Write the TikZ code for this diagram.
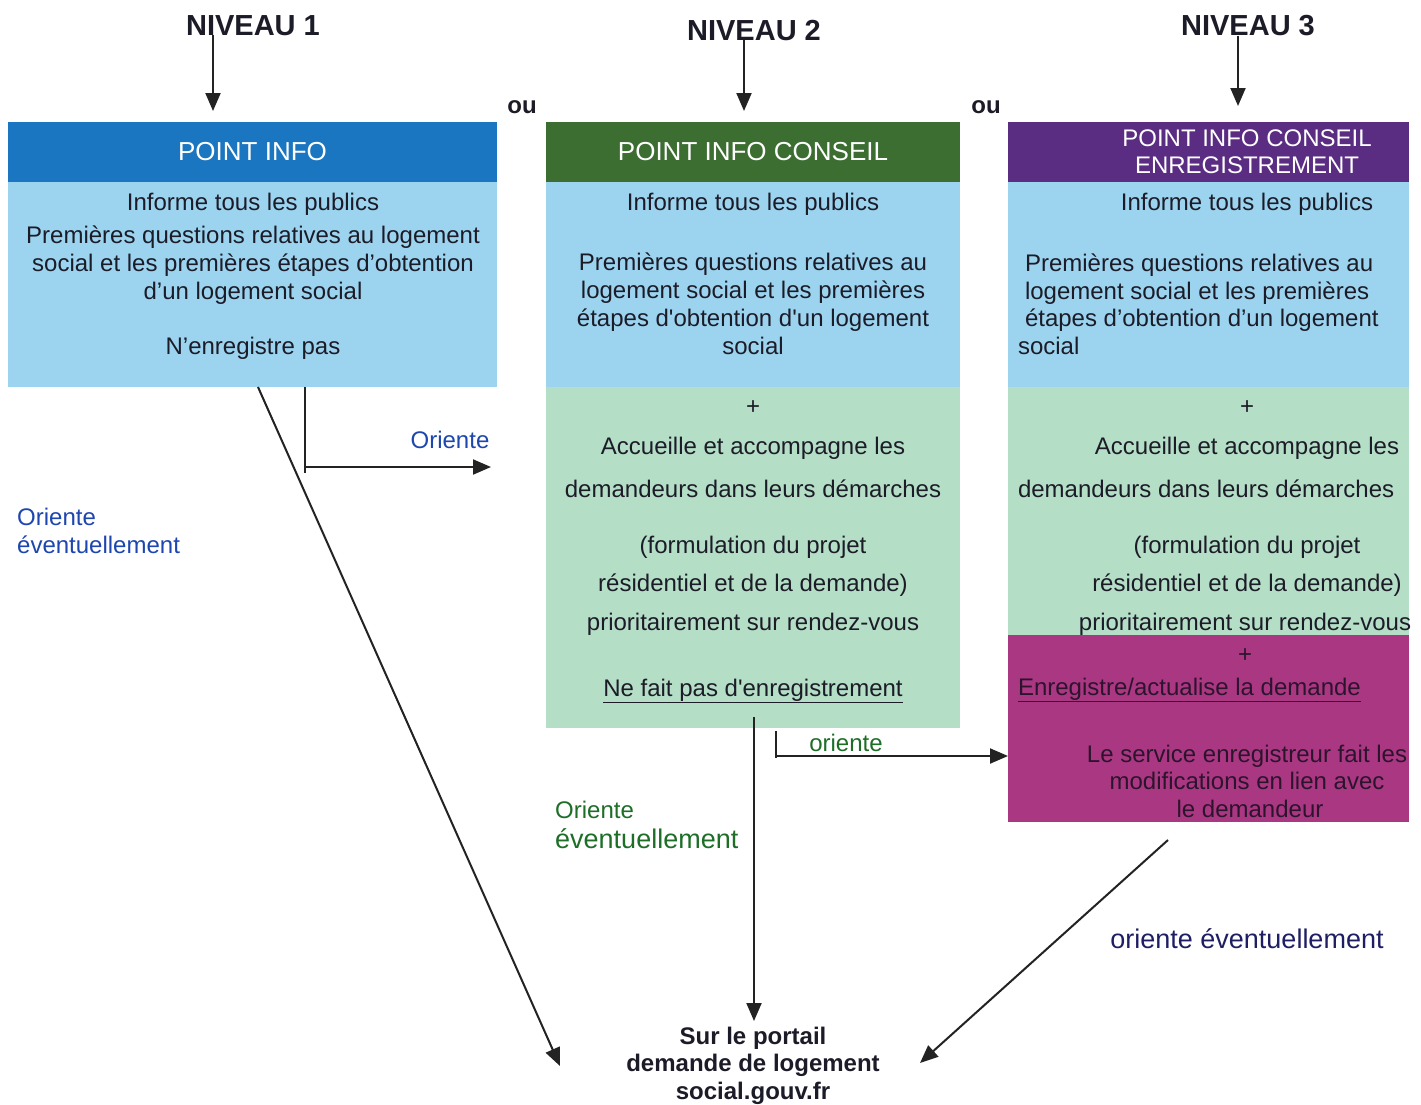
\documentclass[tikz,border=0pt]{standalone}
\usepackage{fontspec}
\setmainfont{Liberation Sans}
\usetikzlibrary{arrows.meta}
\definecolor{hdrA}{RGB}{26,118,192}
\definecolor{hdrB}{RGB}{60,110,50}
\definecolor{hdrC}{RGB}{90,45,130}
\definecolor{lblue}{RGB}{156,212,240}
\definecolor{lgreen}{RGB}{181,222,198}
\definecolor{magbox}{RGB}{170,55,130}
\definecolor{txtdark}{RGB}{28,28,40}
\definecolor{magtxt}{RGB}{45,20,45}
\definecolor{lblblue}{RGB}{30,70,175}
\definecolor{lblgreen}{RGB}{30,110,40}
\definecolor{lblnavy}{RGB}{30,30,100}
\definecolor{linec}{RGB}{35,35,35}
\begin{document}
\begin{tikzpicture}[x=1pt,y=-1pt,
  region/.style={inner sep=0pt,outer sep=0pt,draw=none},
  hdrtext/.style={text=white,font=\fontsize{26}{27}\selectfont},
  body/.style={inner sep=0pt,outer sep=0pt,text=txtdark,font=\fontsize{24}{28}\selectfont,anchor=base},
  bodyl/.style={body,anchor=base west},
  lvl/.style={inner sep=0pt,anchor=base,text=txtdark,font=\bfseries\fontsize{29}{30}\selectfont},
  lbl/.style={inner sep=0pt,anchor=base,font=\fontsize{24}{28}\selectfont},
  line/.style={draw=linec,line width=2pt},
  arr/.style={line,-{Triangle[length=18pt,width=15pt]}},
]
\useasboundingbox (0,0) rectangle (1421,1104);
\fill[white] (0,0) rectangle (1421,1104);

% ---------- Box 1 ----------
\node[region,fill=hdrA,minimum width=489pt,minimum height=60pt] (h1) at (252.5,152) {};
\node[hdrtext] (h1t) at (h1) {POINT INFO};
\node[region,fill=lblue,minimum width=489pt,minimum height=205pt] (b1) at (252.5,284.5) {};
\node[body] (t11) at (253,210) {Informe tous les publics};
\node[body,align=center] (t12) at (253,299) {Premières questions relatives au logement\\social et les premières étapes d’obtention\\d’un logement social};
\node[body] (t13) at (253,354) {N’enregistre pas};

% ---------- Box 2 ----------
\node[region,fill=hdrB,minimum width=414pt,minimum height=60pt] (h2) at (753,152) {};
\node[hdrtext] (h2t) at (h2) {POINT INFO CONSEIL};
\node[region,fill=lblue,minimum width=414pt,minimum height=205pt] (b2) at (753,284.5) {};
\node[region,fill=lgreen,minimum width=414pt,minimum height=341pt] (g2) at (753,557.5) {};
\node[body] (t21) at (753,210) {Informe tous les publics};
\node[body,align=center,font=\fontsize{24}{27.7}\selectfont] (t22) at (753,354) {Premières questions relatives au\\logement social et les premières\\étapes d\textquotesingle obtention d\textquotesingle un logement\\social};
\node[body] (t23) at (753,414) {+};
\node[body] (t24) at (753,454) {Accueille et accompagne les};
\node[body] (t25) at (753,497) {demandeurs dans leurs démarches};
\node[body] (t26) at (753,553) {(formulation du projet};
\node[body] (t27) at (753,591) {résidentiel et de la demande)};
\node[body] (t28) at (753,630) {prioritairement sur rendez-vous};
\node[body] (t29) at (753,696) {\underline{Ne fait pas d\textquotesingle enregistrement}};

% ---------- Box 3 ----------
\node[region,fill=hdrC,minimum width=401pt,minimum height=60pt] (h3) at (1208.5,152) {};
\node[hdrtext,anchor=base,font=\fontsize{24}{27}\selectfont] (h3t) at (1247,146.5) {POINT INFO CONSEIL};
\node[hdrtext,anchor=base,font=\fontsize{24}{27}\selectfont] (h3u) at (1247,173.5) {ENREGISTREMENT};
\node[region,fill=lblue,minimum width=401pt,minimum height=205pt] (b3) at (1208.5,284.5) {};
\node[region,fill=lgreen,minimum width=401pt,minimum height=248pt] (g3) at (1208.5,511) {};
\node[region,fill=magbox,minimum width=401pt,minimum height=187pt] (m3) at (1208.5,728.5) {};
\node[body] (t31) at (1247,210) {Informe tous les publics};
\node[bodyl] (t32) at (1025,271) {Premières questions relatives au};
\node[bodyl] (t33) at (1025,299) {logement social et les premières};
\node[bodyl] (t34) at (1025,326) {étapes d’obtention d’un logement};
\node[bodyl] (t35) at (1018,354) {social};
\node[body] (t36) at (1247,414) {+};
\node[body] (t37) at (1247,454) {Accueille et accompagne les};
\node[bodyl] (t38) at (1018,497) {demandeurs dans leurs démarches};
\node[body] (t39) at (1247,553) {(formulation du projet};
\node[body] (t3a) at (1247,591) {résidentiel et de la demande)};
\node[body] (t3b) at (1245,630) {prioritairement sur rendez-vous};
\node[body,text=magtxt] (t3c) at (1245,662) {+};
\node[bodyl,text=magtxt] (t3d) at (1018,695) {\underline{Enregistre/actualise la demande}};
\node[body,text=magtxt] (t3e) at (1247,762) {Le service enregistreur fait les};
\node[body,text=magtxt] (t3f) at (1247,789) {modifications en lien avec};
\node[body,text=magtxt] (t3g) at (1250,817) {le demandeur};

% ---------- Level titles ----------
\node[lvl] (n1) at (253,35) {NIVEAU 1};
\node[lvl] (n2) at (754,40) {NIVEAU 2};
\node[lvl] (n3) at (1248,35) {NIVEAU 3};
\node[lvl,font=\bfseries\fontsize{24}{28}\selectfont] (ou1) at (522,113) {ou};
\node[lvl,font=\bfseries\fontsize{24}{28}\selectfont] (ou2) at (986,113) {ou};

\coordinate (a1) at (213,111);
\coordinate (a2) at (744,111);
\coordinate (a3) at (1238,106);
\draw[arr] (n1.south -| a1) -- (a1);
\draw[arr] (n2.south -| a2) -- (a2);
\draw[arr] (n3.south -| a3) -- (a3);

% ---------- Portal ----------
\node[body,align=center,font=\bfseries\fontsize{24}{27.5}\selectfont] (portal) at (753,1099) {Sur le portail\\demande de logement\\social.gouv.fr};

% ---------- Connectors ----------
\coordinate (c1s) at (305,387);
\coordinate (c1c) at (305,473);
\coordinate (c1h) at (305,467);
\coordinate (c1e) at (491,467);
\draw[line] (c1s) -- (c1c);
\draw[arr] (c1h) -- (c1e);
\node[lbl,text=lblblue] (lo1) at (450,448) {Oriente};

\coordinate (c2s) at (258,387);
\coordinate (c2e) at (560,1066);
\draw[arr] (c2s) -- (c2e);
\node[lbl,anchor=base west,text=lblblue,align=left] (lo2) at (17,553) {Oriente\\éventuellement};

\coordinate (c3s) at (754,717);
\coordinate (c3e) at (754,1021);
\draw[arr] (c3s) -- (c3e);
\node[lbl,anchor=base west,text=lblgreen] (lo3) at (555,818) {Oriente};
\node[lbl,anchor=base west,text=lblgreen,font=\fontsize{27}{28}\selectfont] (lo3b) at (555,848) {éventuellement};

\coordinate (c4a) at (776,731);
\coordinate (c4b) at (776,758);
\coordinate (c4s) at (776,756);
\draw[line] (c4a) -- (c4b);
\draw[arr] (c4s) -- (m3.west |- c4s);
\node[lbl,text=lblgreen] (lo4) at (846,751) {oriente};

\coordinate (c5s) at (1168,840);
\coordinate (c5e) at (920,1063);
\draw[arr] (c5s) -- (c5e);
\node[lbl,text=lblnavy,font=\fontsize{27}{28}\selectfont] (lo5) at (1247,948) {oriente éventuellement};
\end{tikzpicture}
\end{document}
